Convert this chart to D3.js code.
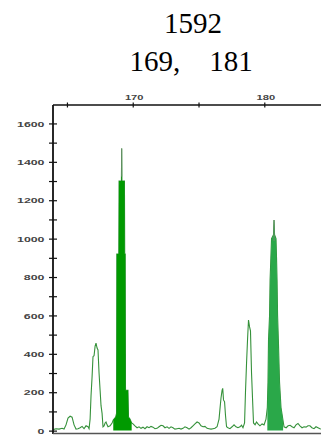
<!DOCTYPE html>
<html>
<head>
<meta charset="utf-8">
<script src="https://cdn.jsdelivr.net/npm/d3@7/dist/d3.min.js"></script>
<style>
html,body{margin:0;padding:0;background:#fff;}
svg{display:block;}
</style>
</head>
<body>
<svg id="chart" width="321" height="436"></svg>
<script>
// ---- data ----
const titleLines = ["1592", "169,    181"];
const sizes = [
163.94,164.17,164.40,164.63,164.78,164.93,165.08,165.24,165.39,165.54,165.69,165.84,166.00,166.15,166.30,166.45,166.60,166.68,
166.76,166.83,166.91,166.98,167.06,167.14,167.21,167.29,167.36,167.44,167.52,167.59,167.67,167.74,167.82,167.90,167.97,168.05,168.12,168.28,
168.43,168.52,168.70,168.77,168.79,168.94,168.96,169.14,169.16,169.18,169.37,169.39,169.43,169.45,169.64,169.68,169.79,169.92,
170.02,170.17,170.33,170.48,170.63,170.78,170.93,171.09,171.24,171.39,171.54,171.69,171.85,172.00,172.15,172.30,172.45,172.61,172.76,172.91,
173.06,173.21,173.37,173.52,173.67,173.82,173.97,174.13,174.28,174.43,174.58,174.73,174.89,175.04,175.19,175.34,175.49,175.65,175.80,175.95,
176.10,176.25,176.41,176.56,176.64,176.71,176.79,176.84,176.90,176.98,177.05,177.13,177.24,177.39,177.55,177.70,177.85,178.00,178.15,178.27,
178.38,178.50,178.57,178.65,178.73,178.80,178.88,178.95,179.03,179.11,179.18,179.30,179.41,179.52,179.67,179.83,179.98,180.13,
180.23,180.28,180.32,180.40,180.44,180.50,180.55,180.70,180.74,180.78,180.89,180.93,180.97,181.01,181.07,181.16,181.27,181.43,
181.50,181.66,181.81,181.96,182.11,182.26,182.41,
182.56,182.71,182.87,183.02,183.17,183.32,183.47,183.62,183.78,183.93,184.08,184.23,184.31
];
const rfu = [
5,10,8,12,8,30,65,75,70,30,8,10,15,22,10,25,20,10,
60,180,280,385,390,440,456,430,420,300,210,130,90,20,25,40,45,30,20,25,
40,55,70,90,920,920,1300,1300,1470,1300,1300,920,920,210,210,70,60,40,
35,25,15,20,12,18,10,20,15,22,18,10,12,20,28,25,15,20,12,20,
15,8,10,12,8,12,20,15,8,15,25,35,45,40,25,20,22,12,10,8,
10,12,20,60,120,170,210,220,160,150,80,20,15,10,20,30,20,15,20,28,
15,40,200,350,480,576,540,520,300,160,40,30,45,35,25,35,30,60,
120,250,470,600,785,900,1000,1020,1097,1020,1000,900,785,600,470,250,120,50,
20,15,25,28,20,15,30,
37,25,15,20,18,25,25,15,10,20,15,10,8
];
const calledPeaks = [[168.45, 169.95], [180.15, 181.45]];
const yTicks = [0,200,400,600,800,1000,1200,1400,1600];
const yMinorTicks = [100,300,500,700,900,1100,1300,1500];
const xTicks = [165,170,175,180];
const xLabels = [170,180];

// ---- layout ----
const svg = d3.select("#chart");
const L = 53, R = 321, T = 105, B = 433.5;
const x = d3.scaleLinear().domain([163.94, 184.31]).range([L, R]);
const y = d3.scaleLinear().domain([-15, 1696]).range([B, T]);

// title
const serif = '"Liberation Serif"';
svg.append("text").attr("x", 193).attr("y", 33).attr("text-anchor", "middle")
  .style("font-family", serif).style("font-size", "29px").style("fill", "#000")
  .text(titleLines[0]);
svg.append("text").attr("x", 191).attr("y", 70.5).attr("text-anchor", "middle")
  .style("font-family", serif).style("font-size", "29px").style("fill", "#000")
  .style("white-space", "pre").text(titleLines[1]);

// clip
svg.append("defs").html(
  '<clipPath id="plot"><rect x="' + L + '" y="' + T + '" width="' + (R - L) + '" height="' + (B - T) + '"/></clipPath>' +
  '<filter id="soft" x="-50%" y="-10%" width="200%" height="120%"><feGaussianBlur stdDeviation="0.7"/></filter>');

const pts = sizes.map((s, i) => ({s: s, v: rfu[i]}));
const g = svg.append("g").attr("clip-path", "url(#plot)");

const line = d3.line().x(d => x(d.s)).y(d => y(d.v));
const area = d3.area().x(d => x(d.s)).y0(y(0)).y1(d => y(d.v));

g.append("path").datum(pts).attr("d", line)
  .attr("fill", "none").attr("stroke", "#35913a").attr("stroke-width", 1.1);

const fillColors = ["#009a00", "#2aa84a"];
calledPeaks.forEach((rng, i) => {
  const sub = pts.filter(d => d.s >= rng[0] && d.s <= rng[1]);
  const p = g.append("path").datum(sub).attr("d", area).attr("fill", fillColors[i]);
  if (i === 1) p.attr("filter", "url(#soft)");
});

// thin spike tops
calledPeaks.forEach((rng) => {
  const sub = pts.filter(d => d.s >= rng[0] && d.s <= rng[1]);
  const top = sub.reduce((a, b) => (b.v > a.v ? b : a));
  g.append("line").attr("x1", x(top.s)).attr("x2", x(top.s))
    .attr("y1", y(top.v)).attr("y2", y(top.v * 0.9))
    .attr("stroke", "#6b8f6b").attr("stroke-width", 1);
});

// axes
const axisColor = "#111";
const sans = '"Liberation Sans"';
const yAxis = d3.axisLeft(y).tickValues(yTicks.concat(yMinorTicks)).tickSize(0).tickFormat("");
const ya = svg.append("g").attr("transform", "translate(" + L + ",0)").call(yAxis);
ya.select(".domain").remove();
ya.selectAll(".tick line").remove();
ya.selectAll(".tick").append("line").attr("x1", -4).attr("x2", 4).attr("stroke", axisColor).attr("stroke-width", 1.2);
ya.selectAll(".tick").filter(d => yTicks.includes(d)).append("text")
  .attr("transform", "translate(-8.5,0) scale(1.65,1)")
  .attr("text-anchor", "end").attr("dy", "0.36em")
  .style("font-family", sans).style("font-size", "7.5px")
  .style("font-weight", "bold").style("fill", "#444").text(d => d);

const xAxis = d3.axisTop(x).tickValues(xTicks).tickSize(0).tickFormat("");
const xa = svg.append("g").attr("transform", "translate(0," + T + ")").call(xAxis);
xa.select(".domain").remove();
xa.selectAll(".tick line").remove();
xa.selectAll(".tick").append("line").attr("y1", -2.5).attr("y2", 2.5).attr("stroke", axisColor).attr("stroke-width", 1.2);
xa.selectAll(".tick").filter(d => xLabels.includes(d)).append("text")
  .attr("transform", "translate(1,-5.5) scale(1.6,1)")
  .attr("text-anchor", "middle")
  .style("font-family", sans).style("font-size", "7px")
  .style("font-weight", "bold").style("fill", "#444").text(d => d);

svg.append("line").attr("x1", L).attr("x2", L).attr("y1", T).attr("y2", B + 0.5)
  .attr("stroke", axisColor).attr("stroke-width", 1.8);
svg.append("line").attr("x1", L).attr("x2", R).attr("y1", T).attr("y2", T)
  .attr("stroke", axisColor).attr("stroke-width", 1.5);
svg.append("line").attr("x1", L).attr("x2", R).attr("y1", B).attr("y2", B)
  .attr("stroke", "#555").attr("stroke-width", 1.5);
</script>
</body>
</html>
